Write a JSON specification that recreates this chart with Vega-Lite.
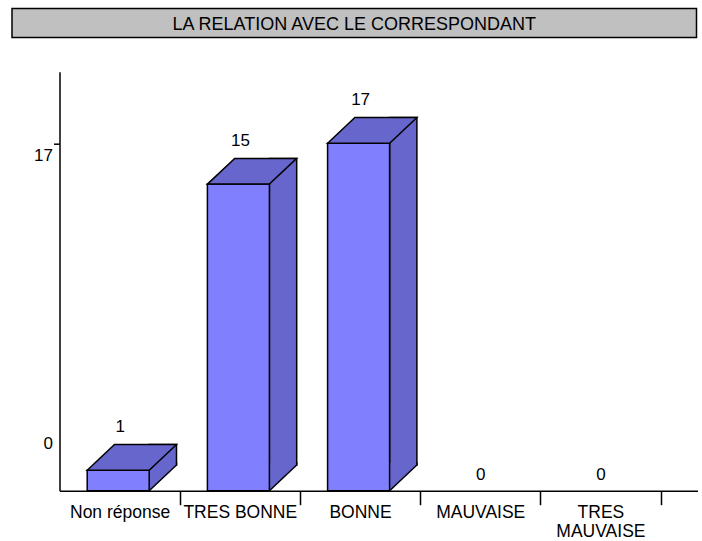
{
  "$schema": "https://vega.github.io/schema/vega-lite/v6.json",
  "padding": {"left": 11, "top": 7.5, "right": 0, "bottom": 0},
  "background": "white",
  "spacing": 33.2,
  "config": {
    "view": {"stroke": null},
    "font": "Liberation Sans",
    "axis": {"domainColor": "black", "domainWidth": 1.5, "tickColor": "black", "tickWidth": 1.5, "labelColor": "black", "labelFont": "Liberation Sans", "grid": false}
  },
  "vconcat": [
    {
      "width": 684.5,
      "height": 29,
      "view": {"fill": "#C0C0C0", "stroke": "black", "strokeWidth": 1.5},
      "data": {"values": [{"t": "LA RELATION AVEC LE CORRESPONDANT"}]},
      "mark": {"type": "text", "font": "Liberation Sans", "fontSize": 18, "color": "black", "baseline": "middle", "align": "center", "dy": 2},
      "encoding": {
        "x": {"datum": 0.5, "type": "quantitative", "scale": {"domain": [0, 1]}, "axis": null},
        "y": {"datum": 0.5, "type": "quantitative", "scale": {"domain": [0, 1]}, "axis": null},
        "text": {"field": "t"}
      }
    },
    {
      "width": 685.5,
      "height": 419,
      "data": {"values": [
        {"cat": "Non réponse", "v": 1},
        {"cat": "TRES BONNE", "v": 15},
        {"cat": "BONNE", "v": 17},
        {"cat": "MAUVAISE", "v": 0},
        {"cat": "TRES MAUVAISE", "v": 0}
      ]},
      "encoding": {
        "x": {
          "field": "cat", "type": "nominal", "sort": null,
          "scale": {"range": [47.5, 685.5], "paddingInner": 0, "paddingOuter": 0.1539, "align": 0},
          "axis": {
            "title": null, "labelAngle": 0, "labelFontSize": 17.5, "tickSize": 14, "labelPadding": -1.5,
            "labelBaseline": "top", "labelLineHeight": 19, "tickBand": "extent",
            "labelExpr": "datum.label == 'TRES MAUVAISE' ? ['TRES', 'MAUVAISE'] : datum.label",
            "tickOpacity": {"condition": {"test": "datum.extra", "value": 0}, "value": 1}
          }
        }
      },
      "layer": [
        {
          "transform": [{"filter": "datum.v > 0"}],
          "mark": {"type": "bar", "width": 27.3, "xOffset": 43.25, "yOffset": -25.7, "y2Offset": -25.7, "fill": "#6666CC", "stroke": "black", "strokeWidth": 1.5},
          "encoding": {
            "y": {
              "field": "v", "type": "quantitative",
              "scale": {"domain": [0, 20.5], "nice": false},
              "axis": {
                "values": [0, 17], "title": null, "tickSize": 6, "labelPadding": 1, "labelFontSize": 17,
                "labelBaseline": "alphabetic", "offset": -47.5, "minExtent": 0,
                "labelOffset": {"condition": {"test": "datum.value === 0", "value": -42}, "value": 16.8},
                "tickOpacity": {"condition": {"test": "datum.value === 0", "value": 0}, "value": 1}
              }
            }
          }
        },
        {
          "transform": [{"filter": "datum.v > 0"}],
          "mark": {"type": "point", "shape": "M 29.6 -27.8 L 29.6 0 L 56.9 -25.7 L 56.9 -27.8 Z", "size": 4, "filled": true, "fill": "#6666CC", "strokeWidth": 0, "opacity": 1},
          "encoding": {"y": {"datum": 0, "type": "quantitative", "scale": {"domain": [0, 20.5], "nice": false}}}
        },
        {
          "transform": [{"filter": "datum.v > 0"}],
          "mark": {"type": "point", "shape": "M 29.6 0 L 56.9 -25.7 L 56.9 -28.5", "size": 4, "filled": false, "stroke": "black", "strokeWidth": 1.5, "opacity": 1},
          "encoding": {"y": {"datum": 0, "type": "quantitative", "scale": {"domain": [0, 20.5], "nice": false}}}
        },
        {
          "transform": [{"filter": "datum.v > 0"}],
          "mark": {"type": "bar", "width": 62, "xOffset": -1.4, "fill": "#8080FF", "stroke": "black", "strokeWidth": 1.5},
          "encoding": {"y": {"field": "v", "type": "quantitative", "scale": {"domain": [0, 20.5], "nice": false}}}
        },
        {
          "transform": [{"filter": "datum.v > 0"}],
          "mark": {"type": "point", "shape": "M -32.4 0 L -5.1 -25.7 L 56.9 -25.7 L 29.6 0 Z", "size": 4, "filled": true, "fill": "#6666CC", "stroke": "black", "strokeWidth": 1.5, "opacity": 1},
          "encoding": {"y": {"field": "v", "type": "quantitative", "scale": {"domain": [0, 20.5], "nice": false}}}
        },
        {
          "transform": [{"filter": "datum.v > 0"}],
          "mark": {"type": "text", "fontSize": 17, "color": "black", "baseline": "alphabetic", "align": "center", "dx": 0.6, "yOffset": -38},
          "encoding": {
            "y": {"field": "v", "type": "quantitative", "scale": {"domain": [0, 20.5], "nice": false}},
            "text": {"field": "v", "type": "quantitative"}
          }
        },
        {
          "transform": [{"filter": "datum.v == 0"}],
          "mark": {"type": "text", "fontSize": 17, "color": "black", "baseline": "alphabetic", "align": "center", "dx": 0.6, "yOffset": -10.7},
          "encoding": {
            "y": {"field": "v", "type": "quantitative", "scale": {"domain": [0, 20.5], "nice": false}},
            "text": {"field": "v", "type": "quantitative"}
          }
        }
      ]
    }
  ]
}
